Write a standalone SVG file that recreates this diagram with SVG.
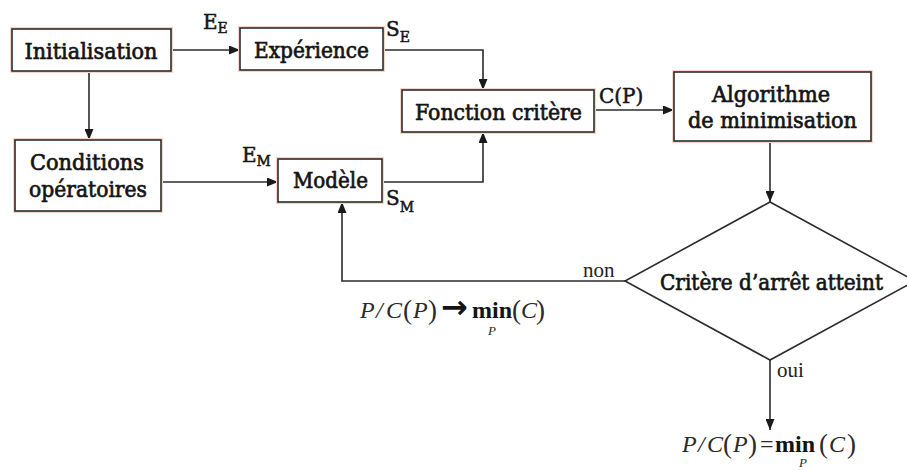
<svg xmlns="http://www.w3.org/2000/svg" width="907" height="470" viewBox="0 0 907 470">
<style>
.box{fill:#ffffff;stroke:#2b2b2b;stroke-width:1.6}
.halo{fill:none;stroke:#f7d6c6;stroke-width:4}
.t{font-family:"DejaVu Serif","Liberation Serif",serif;font-size:22px;fill:#141414;stroke:#141414;stroke-width:0.7;text-anchor:middle}
.lab{font-family:"DejaVu Serif","Liberation Serif",serif;font-size:20px;fill:#141414;stroke:#141414;stroke-width:0.5}
.sub{font-size:14px}
.small{font-family:"Liberation Serif","Times New Roman",serif;font-size:21px;fill:#222}
.f{font-family:"Liberation Serif","Times New Roman",serif;font-size:24px;fill:#2a2a2a}
.it{font-style:italic}
.par{font-size:27px}
.bf{font-weight:bold;fill:#141414}
.ar{font-family:"DejaVu Sans",sans-serif;font-size:32px;font-weight:bold;fill:#141414}
.ps{font-size:13px}
.conn{fill:none;stroke:#2b2b2b;stroke-width:1.6}
</style>
<defs>
<marker id="arr" markerUnits="userSpaceOnUse" markerWidth="11" markerHeight="9" refX="11" refY="4.5" orient="auto">
<path d="M0,0 L11,4.5 L0,9 z" fill="#1a1a1a"/>
</marker>
</defs>
<rect width="907" height="470" fill="#ffffff"/>

<g id="connectors">
<path class="conn" d="M171,50 H240" marker-end="url(#arr)"/>
<path class="conn" d="M89,71 V140" marker-end="url(#arr)"/>
<path class="conn" d="M383,50 H483 V90" marker-end="url(#arr)"/>
<path class="conn" d="M161,182 H278" marker-end="url(#arr)"/>
<path class="conn" d="M382,182 H483 V132" marker-end="url(#arr)"/>
<path class="conn" d="M594,110 H674" marker-end="url(#arr)"/>
<path class="conn" d="M770,141 V202" marker-end="url(#arr)"/>
<path class="conn" d="M625,281 H342 V202" marker-end="url(#arr)"/>
<path class="conn" d="M770,360 V430" marker-end="url(#arr)"/>
</g>

<g id="initialisation">
<rect class="halo" x="12" y="29" width="159" height="42"/>
<rect class="box" x="12" y="29" width="159" height="42"/>
<text class="t" x="91" y="59" textLength="133" lengthAdjust="spacingAndGlyphs">Initialisation</text>
</g>

<g id="experience">
<rect class="halo" x="240" y="28" width="143" height="42"/>
<rect class="box" x="240" y="28" width="143" height="42"/>
<text class="t" x="311.5" y="58" textLength="115" lengthAdjust="spacingAndGlyphs">Expérience</text>
</g>

<g id="conditions">
<rect class="halo" x="15" y="140" width="146" height="71"/>
<rect class="box" x="15" y="140" width="146" height="71"/>
<text class="t" x="87" y="170" textLength="114" lengthAdjust="spacingAndGlyphs">Conditions</text>
<text class="t" x="88" y="197" textLength="118" lengthAdjust="spacingAndGlyphs">opératoires</text>
</g>

<g id="modele">
<rect class="halo" x="278" y="159" width="104" height="43"/>
<rect class="box" x="278" y="159" width="104" height="43"/>
<text class="t" x="330.5" y="188" textLength="75" lengthAdjust="spacingAndGlyphs">Modèle</text>
</g>

<g id="fonction">
<rect class="halo" x="402" y="90" width="192" height="42"/>
<rect class="box" x="402" y="90" width="192" height="42"/>
<text class="t" x="498.5" y="120" textLength="167" lengthAdjust="spacingAndGlyphs">Fonction critère</text>
</g>

<g id="algorithme">
<rect class="halo" x="674" y="72" width="197" height="69"/>
<rect class="box" x="674" y="72" width="197" height="69"/>
<text class="t" x="771" y="102" textLength="118" lengthAdjust="spacingAndGlyphs">Algorithme</text>
<text class="t" x="772.5" y="128" textLength="169" lengthAdjust="spacingAndGlyphs">de minimisation</text>
</g>

<g id="critere">
<path class="box" d="M770,202 L915,281 L770,360 L625,281 Z"/>
<text class="t" x="771.5" y="290" textLength="223" lengthAdjust="spacingAndGlyphs">Critère d’arrêt atteint</text>
</g>

<g id="labels">
<text class="lab" x="203" y="29">E<tspan class="sub" dy="4">E</tspan></text>
<text class="lab" x="386" y="36">S<tspan class="sub" dy="6">E</tspan></text>
<text class="lab" x="242" y="162">E<tspan class="sub" dy="4">M</tspan></text>
<text class="lab" x="386" y="205">S<tspan class="sub" dy="7">M</tspan></text>
<text class="lab" x="599" y="103">C(P)</text>
<text class="small" x="583" y="277">non</text>
<text class="small" x="777" y="377">oui</text>
</g>

<g id="formule-non">
<text class="f" y="318"><tspan class="it" x="360">P</tspan><tspan class="it" x="376">/</tspan><tspan class="it" x="386">C</tspan><tspan class="par" x="403" dy="1">(</tspan><tspan class="it" x="413" dy="-1">P</tspan><tspan class="par" x="428" dy="1">)</tspan><tspan class="ar" x="441" dy="-1">→</tspan><tspan class="bf" x="472">min</tspan><tspan class="par" x="512" dy="1">(</tspan><tspan class="it" x="521" dy="-1">C</tspan><tspan class="par" x="536" dy="1">)</tspan></text>
<text class="f it ps" x="488" y="335">P</text>
</g>

<g id="formule-oui">
<text class="f" y="452"><tspan class="it" x="682">P</tspan><tspan class="it" x="698">/</tspan><tspan class="it" x="707">C</tspan><tspan class="par" x="723" dy="1">(</tspan><tspan class="it" x="733" dy="-1">P</tspan><tspan class="par" x="748" dy="1">)</tspan><tspan x="760" dy="-1">=</tspan><tspan class="bf" x="775">min</tspan><tspan class="par" x="819" dy="1">(</tspan><tspan class="it" x="829" dy="-1">C</tspan><tspan class="par" x="847" dy="1">)</tspan></text>
<text class="f it ps" x="799" y="467">P</text>
</g>
</svg>
